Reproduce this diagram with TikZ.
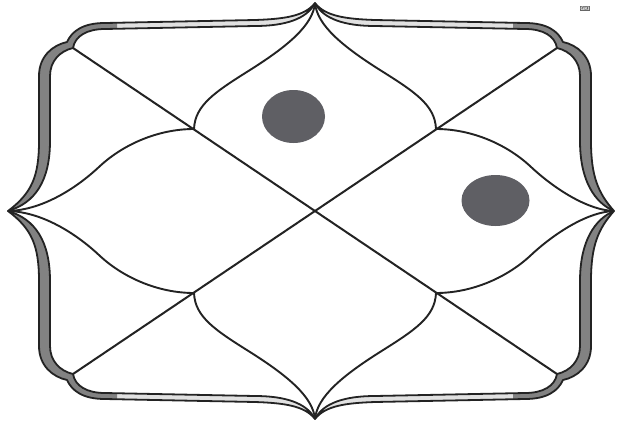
\documentclass[tikz,border=0pt]{standalone}
\usepackage{fontspec}
\setmainfont{Liberation Sans}
\definecolor{ink}{RGB}{35,35,35}
\definecolor{bandfill}{RGB}{130,130,130}
\definecolor{bandlight}{RGB}{225,225,225}
\definecolor{dotgray}{RGB}{95,95,100}
\tikzset{
  bandline/.style={draw=ink, line width=1.8pt, line join=round},
  curveline/.style={draw=ink, line width=1.9pt},
  diagline/.style={draw=ink, line width=2pt},
  dotfill/.style={fill=dotgray},
}
\newcommand\bandpath[1]{(0,-208) .. controls (-10,-195) and (-30,-192) .. (-60,-191) -- (-210,-188) .. controls (-232,-188) and (-243,-180) .. (-248,-169) .. controls (-262,-166) and (-276,-155) .. (-276,-135) -- (-276,-70) .. controls (-276,-35) and (-283,-18) .. (-#1,0) .. controls (-280,-8) and (-265,-30) .. (-265,-70) -- (-265,-135) .. controls (-265,-150) and (-255,-160) .. (-242,-163) .. controls (-240,-175) and (-228,-182) .. (-210,-182) -- (-60,-185) .. controls (-30,-185) and (-8,-192) .. (0,-208) -- cycle}
\newcommand\quadfill[1]{%
  \fill[bandlight] \bandpath{#1};
  \begin{scope}
    \clip (-330,8) -- (-330,-225) -- (-198,-225) -- (-198,-150) -- (8,-150) -- (8,8) -- cycle;
    \fill[bandfill] \bandpath{#1};
  \end{scope}}
\newcommand\quadlines[1]{%
  \draw[bandline] \bandpath{#1};
  \draw[curveline] (0,-208) .. controls (-2,-186) and (-27,-165) .. (-65,-141) .. controls (-100,-119) and (-120,-106) .. (-121,-82);
  \draw[curveline] (-#1,0) .. controls (-270,-1) and (-235,-26) .. (-215,-45) .. controls (-190,-68) and (-155,-82) .. (-121,-82);
  \draw[diagline] (-242,-163) -- (0,0);}
\begin{document}
\begin{tikzpicture}[x=1pt,y=-1pt]
\useasboundingbox (0,0) rectangle (620,423);
\fill[white] (0,0) rectangle (620,423);
\foreach \sx/\sy/\cx in {1/1/307, -1/1/299, 1/-1/307, -1/-1/299} {
  \begin{scope}[shift={(315,211)}, xscale=\sx, yscale=\sy]
    \quadfill{\cx}
  \end{scope}
}
\foreach \sx/\sy/\cx in {1/1/307, -1/1/299, 1/-1/307, -1/-1/299} {
  \begin{scope}[shift={(315,211)}, xscale=\sx, yscale=\sy]
    \quadlines{\cx}
  \end{scope}
}
\fill[dotfill] (293.5,116.5) ellipse [x radius=31.5pt, y radius=26.5pt];
\fill[dotfill] (495.5,200.5) ellipse [x radius=34pt, y radius=25.5pt];
\node[fill=black!60, text=white, inner sep=0.6pt, font=\fontsize{5}{5}\selectfont\bfseries] (tag) at (585,8.5) {GKI};
\end{tikzpicture}
\end{document}
